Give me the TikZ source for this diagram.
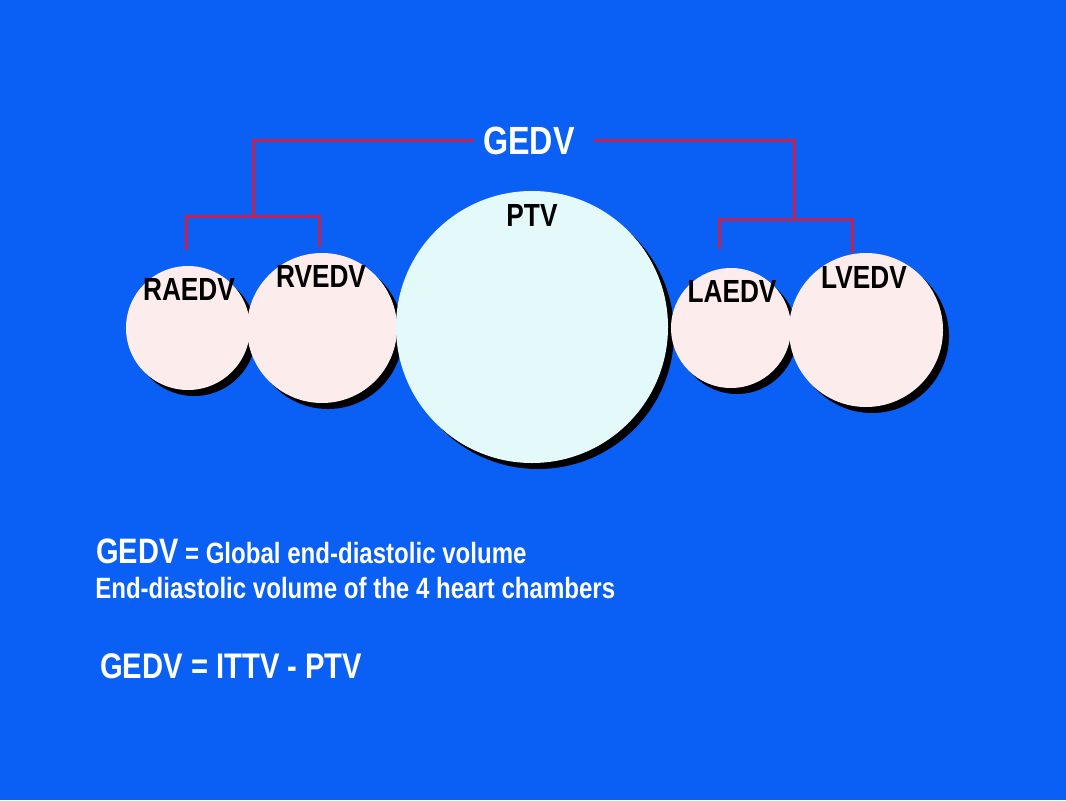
\documentclass[tikz,border=0pt]{standalone}
\usepackage{fontspec}
\setmainfont{Liberation Sans}[FakeStretch=0.82]
\usetikzlibrary{shadows}
\definecolor{slideblue}{RGB}{10,95,245}
\definecolor{bracketred}{RGB}{190,35,85}
\definecolor{chamberpink}{RGB}{252,236,236}
\definecolor{lungcyan}{RGB}{228,250,250}
\tikzset{
	chamber/.style = {circle, fill = chamberpink, inner sep = 0pt, minimum size = #1*1.5pt,
		drop shadow = {shadow xshift = 4.5pt, shadow yshift = -4.5pt, fill = black, opacity = 1}},
	vol/.style = {anchor = base, inner sep = 0pt, font = \bfseries\fontsize{24}{28}\selectfont},
	bracket/.style = {draw = bracketred, line width = 2.25pt},
	caption/.style = {anchor = base west, inner sep = 0pt, text = white, font = \bfseries}
}
\begin{document}
\begin{tikzpicture}[x = 0.75pt, y = -0.75pt]
	\fill[slideblue] (0,0) rectangle (1066,800);
	% the heart chambers and the lungs
	\node[chamber = 62] (raedv) at (188,328) {};
	\node[chamber = 75] (rvedv) at (322,328) {};
	\node[chamber = 136, fill = lungcyan] (ptv) at (532,327) {};
	\node[chamber = 60] (laedv) at (731,328) {};
	\node[chamber = 77] (lvedv) at (866,330) {};
	\node[vol] (ralabel) at (189,300) {RAEDV};
	\node[vol] (rvlabel) at (321,287) {RVEDV};
	\node[vol] (ptvlabel) at (532,226) {PTV};
	\node[vol] (lalabel) at (732,302) {LAEDV};
	\node[vol] (lvlabel) at (864,288) {LVEDV};
	% bracket
	\node[anchor = base, inner sep = 0pt, text = white, font = \bfseries\fontsize{29.5}{34}\selectfont] (gedv) at (529,154) {GEDV};
	\coordinate (rj) at (253,216);
	\coordinate (ra) at (186,250);
	\coordinate (rv) at (319,247);
	\coordinate (lj) at (794,219);
	\coordinate (la) at (719,249);
	\coordinate (lv) at (852,253);
	\draw[bracket] ([xshift = -7pt]gedv.west) -| (rj);
	\draw[bracket] ([xshift = 14pt]gedv.east) -| (lj);
	\draw[bracket] (ra) |- (rj) -| (rv);
	\draw[bracket] (la) |- (lj) -| (lv);
	% definitions
	\node[caption] (def) at (96,563) {{\fontsize{26.5}{30}\selectfont GEDV}\hspace{5pt}{\fontsize{22}{25}\selectfont = Global end-diastolic volume}};
	\node[caption, font = \bfseries\fontsize{22}{26}\selectfont] (chambers) at (95,598) {End-diastolic volume of the 4 heart chambers};
	\node[caption, font = \bfseries\fontsize{26.7}{30}\selectfont] (formula) at (100,678) {GEDV = ITTV - PTV};
\end{tikzpicture}
\end{document}
